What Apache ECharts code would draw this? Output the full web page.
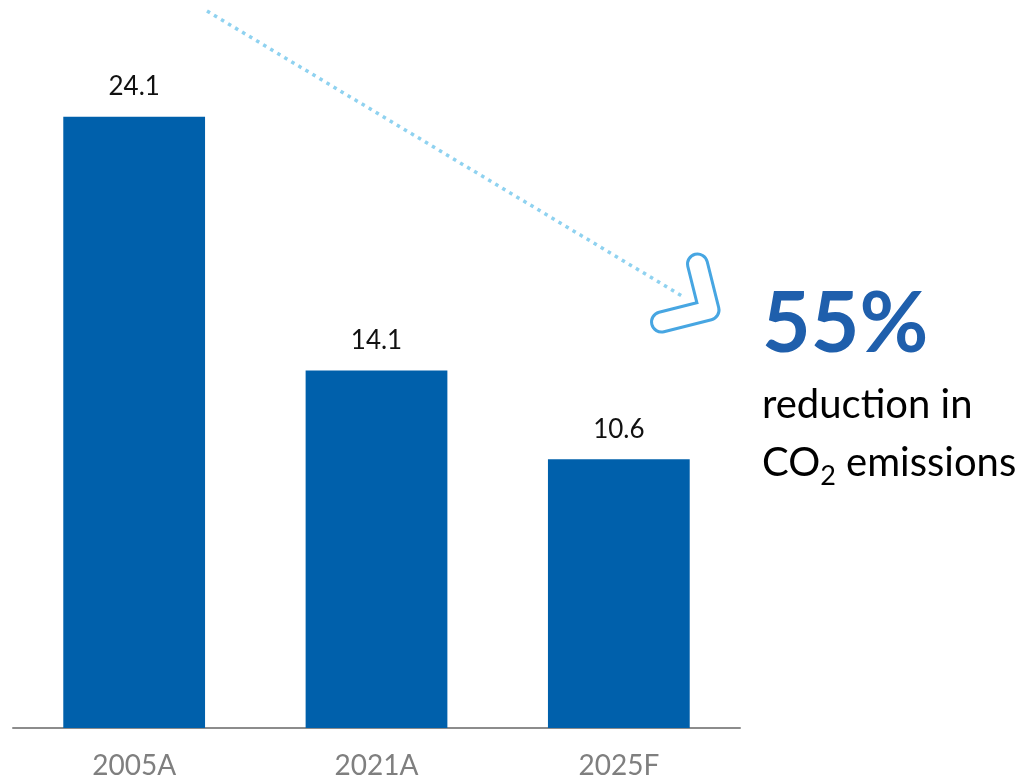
<!DOCTYPE html>
<html>
<head>
<meta charset="utf-8">
<script src="https://cdn.jsdelivr.net/npm/echarts@6/dist/echarts.min.js"></script>
<style>
  html, body { margin: 0; padding: 0; background: #ffffff; }
  #chart { width: 1024px; height: 784px; }
</style>
</head>
<body>
<div id="chart"></div>
<script>
// CO2 emissions by period
const categories = ['2005A', '2021A', '2025F'];
const emissions = [24.1, 14.1, 10.6];
const reductionLabel = '55%';

const FONT = 'Lato';
const chart = echarts.init(document.getElementById('chart'), null, { renderer: 'canvas' });

chart.setOption({
  animation: false,
  grid: { left: 13, right: 284, top: 94, bottom: 56 },
  xAxis: {
    type: 'category',
    data: categories,
    axisLine: { lineStyle: { color: '#8c8c8c', width: 2 } },
    axisTick: { show: false },
    axisLabel: { color: '#7f7f7f', fontFamily: FONT, fontSize: 28, margin: 24 }
  },
  yAxis: {
    type: 'value',
    min: 0,
    max: 25,
    show: false,
    splitLine: { show: false }
  },
  series: [{
    type: 'bar',
    data: emissions,
    barCategoryGap: '41.5%',
    itemStyle: { color: '#0060ab' },
    label: {
      show: true,
      position: 'top',
      distance: 17,
      color: '#111111',
      fontFamily: FONT,
      fontSize: 26,
      formatter: p => p.value.toFixed(1)
    }
  }],
  graphic: [
    // dotted trend line down toward the arrow
    {
      type: 'line',
      shape: { x1: 207, y1: 11, x2: 682, y2: 296 },
      style: { stroke: '#8fd2f0', lineWidth: 3.5, lineDash: [3.5, 4.7] },
      z: 10
    },
    // outlined chevron arrow head
    {
      type: 'polyline',
      shape: { points: [[697.5, 264], [709, 310], [661.5, 322]] },
      style: { stroke: '#47a6e2', lineWidth: 23, lineCap: 'round', lineJoin: 'round', fill: null },
      z: 10
    },
    {
      type: 'polyline',
      shape: { points: [[697.5, 264], [709, 310], [661.5, 322]] },
      style: { stroke: '#ffffff', lineWidth: 17, lineCap: 'round', lineJoin: 'round', fill: null },
      z: 11
    },
    {
      type: 'text',
      x: 762, y: 325,
      style: {
        text: reductionLabel,
        fill: '#1f5fac',
        font: 'bold 84px ' + FONT,
        verticalAlign: 'middle',
        align: 'left'
      },
      z: 12
    },
    {
      type: 'text',
      x: 762, y: 405,
      style: {
        text: 'reduction in',
        fill: '#000000',
        font: '40px ' + FONT,
        verticalAlign: 'middle',
        align: 'left'
      },
      z: 12
    },
    {
      type: 'text',
      x: 762, y: 436,
      style: {
        text: 'CO{s|2} emissions',
        fill: '#000000',
        fontFamily: FONT,
        fontSize: 40,
        verticalAlign: 'top',
        align: 'left',
        rich: {
          s: { fontFamily: FONT, fontSize: 27, fill: '#000000', padding: [27, 0, 0, 0], verticalAlign: 'top' }
        }
      },
      z: 12
    }
  ]
});
</script>
</body>
</html>
